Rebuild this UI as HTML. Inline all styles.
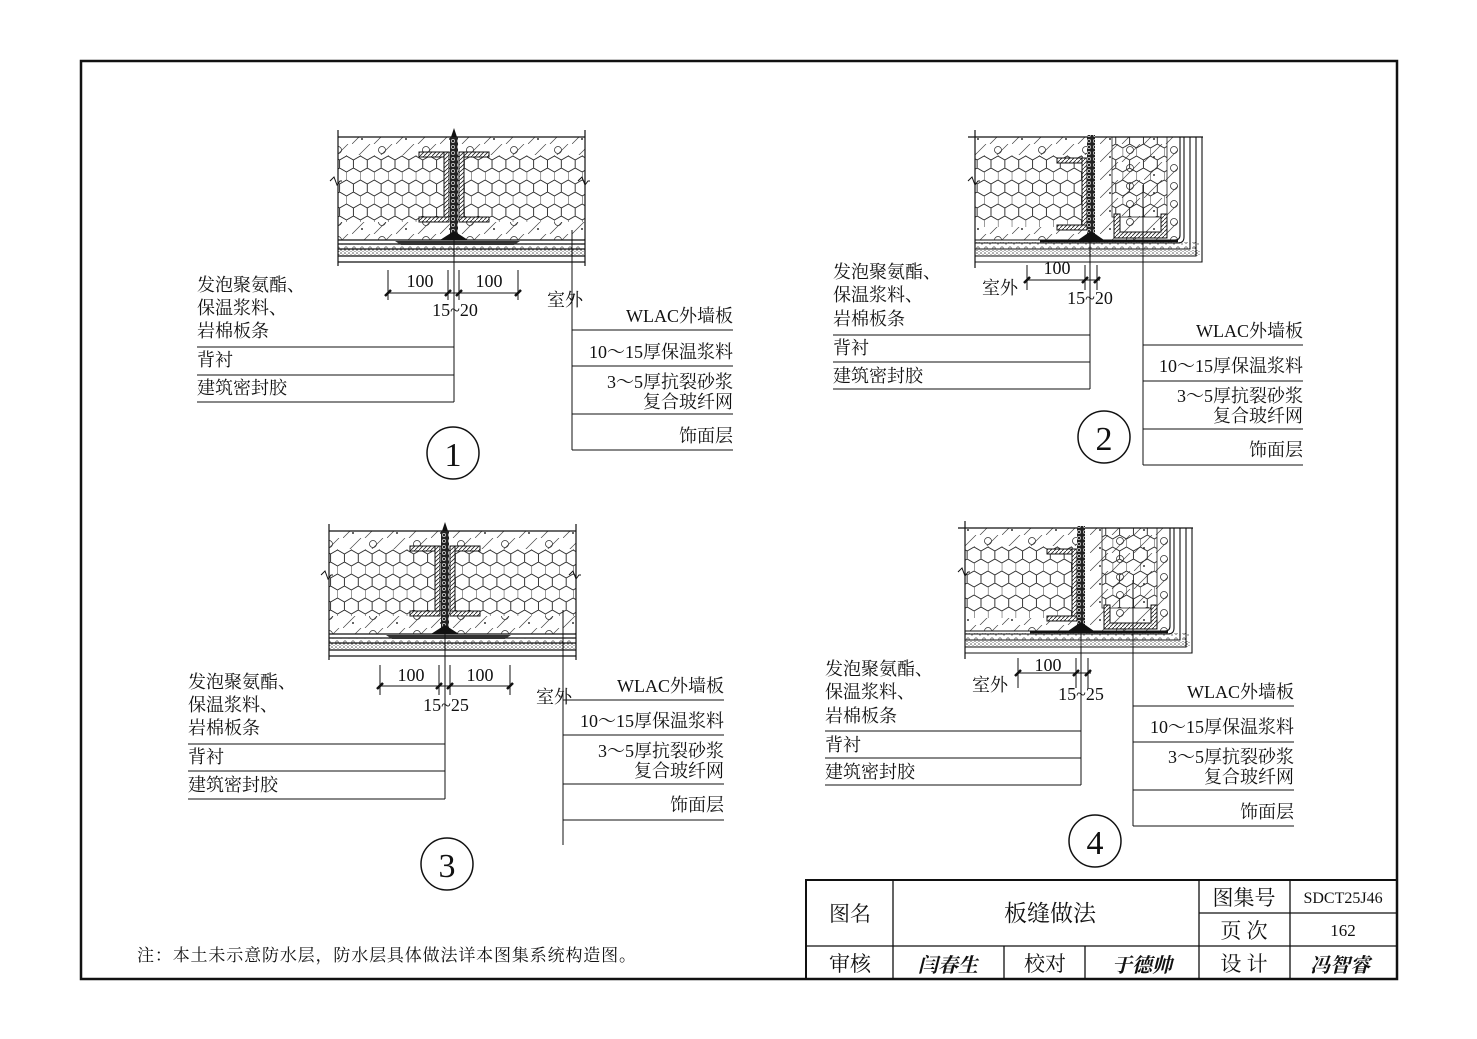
<!DOCTYPE html>
<html><head><meta charset="utf-8"><style>
html,body{margin:0;padding:0;background:#fff}
svg{display:block}
text{font-family:"Liberation Serif","Noto Serif CJK SC",serif;fill:#111}
</style></head><body>
<svg width="1477" height="1039" viewBox="0 0 1477 1039" xmlns="http://www.w3.org/2000/svg">
<defs>
<pattern id="hex" patternUnits="userSpaceOnUse" width="13.86" height="24">
<path d="M0,4 L6.93,0 L13.86,4 M0,4 V12 M0,12 L6.93,16 L13.86,12 M6.93,16 V24" fill="none" stroke="#222" stroke-width="0.9"/>
</pattern>
<pattern id="conc" patternUnits="userSpaceOnUse" width="44" height="18">
<path d="M0,18 L18,0 M22,18 L40,0" stroke="#444" stroke-width="0.7"/>
<circle cx="30" cy="6" r="3.5" fill="none" stroke="#333" stroke-width="0.8"/>
<circle cx="10" cy="13" r="1" fill="#333"/>
</pattern>
<pattern id="spk" patternUnits="userSpaceOnUse" width="8" height="6">
<circle cx="2" cy="2" r="1.2" fill="none" stroke="#444" stroke-width="0.7"/>
<circle cx="6" cy="4" r="0.7" fill="#555"/>
</pattern>
<pattern id="dots" patternUnits="userSpaceOnUse" width="4" height="3">
<rect width="4" height="3" fill="#fff"/><circle cx="1" cy="1" r="0.8" fill="#555"/><circle cx="3" cy="2.5" r="0.6" fill="#777"/>
</pattern>
<pattern id="hatch" patternUnits="userSpaceOnUse" width="4" height="4">
<rect width="4" height="4" fill="#fff"/><path d="M0,4 L4,0" stroke="#222" stroke-width="0.8"/>
</pattern>
<pattern id="bolt" patternUnits="userSpaceOnUse" width="6" height="6">
<rect width="6" height="6" fill="#222"/><circle cx="3" cy="3" r="1.6" fill="none" stroke="#ddd" stroke-width="0.7"/>
</pattern>

<g id="p1">
<rect x="338" y="137" width="247" height="18" fill="url(#conc)"/>
<rect x="338" y="155" width="247" height="67" fill="url(#hex)"/>
<rect x="338" y="222" width="247" height="18" fill="url(#conc)"/>
<rect x="338" y="244" width="247" height="5" fill="url(#spk)"/>
<rect x="338" y="249" width="247" height="7" fill="url(#dots)"/>
<path d="M338,137 H585 M338,240 H585 M338,244 H585 M338,249 H585 M338,256 H585 M338,262 H585" stroke="#111" stroke-width="1.2" fill="none"/>
<path d="M338,130 V266 M585,130 V266" stroke="#111" stroke-width="1.2"/>
<path d="M330,181 l4,-4 l3,8 l3,-4 h2 M578,181 l4,-4 l3,8 l3,-4 h2" stroke="#111" fill="none" stroke-width="1"/>
<path d="M395,241 L520,241 L514,245 L401,245 Z" fill="#333"/>
<rect x="419" y="152" width="30" height="5" fill="url(#hatch)" stroke="#111"/>
<rect x="444" y="152" width="5" height="70" fill="url(#hatch)" stroke="#111"/>
<rect x="419" y="217" width="30" height="5" fill="url(#hatch)" stroke="#111"/>
<rect x="459" y="152" width="30" height="5" fill="url(#hatch)" stroke="#111"/>
<rect x="459" y="152" width="5" height="70" fill="url(#hatch)" stroke="#111"/>
<rect x="459" y="217" width="30" height="5" fill="url(#hatch)" stroke="#111"/>
<rect x="450" y="137" width="8" height="100" fill="url(#bolt)"/>
<path d="M451,137 L454,128 L457,137 Z M440,240 L454,231 L468,240 Z" fill="#111"/>
</g>

<g id="p2">
<rect x="975" y="137" width="113" height="18" fill="url(#conc)"/>
<rect x="975" y="155" width="108" height="72" fill="url(#hex)"/>
<rect x="975" y="227" width="113" height="13" fill="url(#conc)"/>
<rect x="1096" y="137" width="82" height="103" fill="url(#conc)"/>
<rect x="1112" y="137" width="55" height="80" fill="url(#hex)" stroke="#222" stroke-width="0.8"/>
<rect x="975" y="242" width="225" height="7" fill="url(#spk)"/>
<rect x="975" y="250" width="225" height="6" fill="url(#dots)"/>
<path d="M968,137 H1203 M975,130 V268" stroke="#111" stroke-width="1.2" fill="none"/>
<path d="M975,240 H1175 Q1180,240 1180,235 V137 M975,243 H1178 Q1184,243 1184,237 V137 M975,249 H1190 V137 M975,256 H1196 V137 M975,262 H1202 V137" stroke="#111" stroke-width="1.1" fill="none"/>
<path d="M1040,241 H1178" stroke="#111" stroke-width="2.5"/>
<path d="M968,181 l4,-4 l3,8 l3,-4 h2" stroke="#111" fill="none"/>
<rect x="1057" y="158" width="30" height="5" fill="url(#hatch)" stroke="#111"/>
<rect x="1082" y="158" width="5" height="72" fill="url(#hatch)" stroke="#111"/>
<rect x="1057" y="225" width="30" height="5" fill="url(#hatch)" stroke="#111"/>
<path d="M1114,214 H1120 V232 H1161 V214 H1167 V238 H1114 Z" fill="url(#hatch)" stroke="#111"/>
<rect x="1087" y="135" width="8" height="102" fill="url(#bolt)"/>
<path d="M1078,240 L1091,231 L1104,240 Z" fill="#111"/>
</g>
</defs>

<rect x="81" y="61" width="1316" height="918" fill="none" stroke="#111" stroke-width="2.5"/>

<!-- Detail 1 -->
<use href="#p1"/>
<g stroke="#111" stroke-width="1" fill="none">
<path d="M454,240 V402 M197,347 H454 M197,375 H454 M197,402 H454"/>
<path d="M572,230 V450 M572,330 H733 M572,366 H733 M572,414 H733 M572,450 H733"/>
<path d="M388,293 H518 M388,270 V300 M448,270 V300 M459,270 V300 M518,270 V300"/>
<path d="M385,296 l6,-6 M445,296 l6,-6 M456,296 l6,-6 M515,296 l6,-6" stroke-width="2.5"/>
<circle cx="453" cy="453" r="26" stroke-width="1.5"/>
</g>
<g font-size="18">
<text x="197" y="291">发泡聚氨酯、</text><text x="197" y="314">保温浆料、</text><text x="197" y="337">岩棉板条</text>
<text x="197" y="366">背衬</text><text x="197" y="394">建筑密封胶</text>
<text x="547" y="306">室外</text>
<text x="733" y="322" text-anchor="end">WLAC外墙板</text>
<text x="733" y="358" text-anchor="end">10～15厚保温浆料</text>
<text x="733" y="388" text-anchor="end">3～5厚抗裂砂浆</text>
<text x="733" y="408" text-anchor="end">复合玻纤网</text>
<text x="733" y="442" text-anchor="end">饰面层</text>
<text x="420" y="287" text-anchor="middle">100</text><text x="489" y="287" text-anchor="middle">100</text>
<text x="455" y="316" text-anchor="middle">15~20</text>
<text x="453" y="466" font-size="34" text-anchor="middle">1</text>
</g>

<!-- Detail 3 -->
<g transform="translate(-9,394)"><use href="#p1"/></g>
<g stroke="#111" stroke-width="1" fill="none">
<path d="M445,634 V799 M188,744 H445 M188,771 H445 M188,799 H445"/>
<path d="M563,610 V845 M563,700 H724 M563,735 H724 M563,784 H724 M563,820 H724"/>
<path d="M380,686 H510 M380,665 V695 M439,665 V695 M450,665 V695 M510,665 V695"/>
<path d="M377,689 l6,-6 M436,689 l6,-6 M447,689 l6,-6 M507,689 l6,-6" stroke-width="2.5"/>
<circle cx="447" cy="864" r="26" stroke-width="1.5"/>
</g>
<g font-size="18">
<text x="188" y="688">发泡聚氨酯、</text><text x="188" y="711">保温浆料、</text><text x="188" y="734">岩棉板条</text>
<text x="188" y="763">背衬</text><text x="188" y="791">建筑密封胶</text>
<text x="536" y="703">室外</text>
<text x="724" y="692" text-anchor="end">WLAC外墙板</text>
<text x="724" y="727" text-anchor="end">10～15厚保温浆料</text>
<text x="724" y="757" text-anchor="end">3～5厚抗裂砂浆</text>
<text x="724" y="777" text-anchor="end">复合玻纤网</text>
<text x="724" y="811" text-anchor="end">饰面层</text>
<text x="411" y="681" text-anchor="middle">100</text><text x="480" y="681" text-anchor="middle">100</text>
<text x="446" y="711" text-anchor="middle">15~25</text>
<text x="447" y="877" font-size="34" text-anchor="middle">3</text>
</g>

<!-- Detail 2 -->
<use href="#p2"/>
<g stroke="#111" stroke-width="1" fill="none">
<path d="M1090,240 V389 M833,335 H1090 M833,362 H1090 M833,389 H1090"/>
<path d="M1143,185 V465 M1143,345 H1303 M1143,381 H1303 M1143,429 H1303 M1143,465 H1303"/>
<path d="M1027,280 H1100 M1027,265 V290 M1085,265 V290 M1097,265 V290"/>
<path d="M1024,283 l6,-6 M1082,283 l6,-6 M1094,283 l6,-6" stroke-width="2.5"/>
<circle cx="1104" cy="437" r="26" stroke-width="1.5"/>
</g>
<g font-size="18">
<text x="833" y="278">发泡聚氨酯、</text><text x="833" y="301">保温浆料、</text><text x="833" y="325">岩棉板条</text>
<text x="833" y="354">背衬</text><text x="833" y="382">建筑密封胶</text>
<text x="982" y="294">室外</text>
<text x="1303" y="337" text-anchor="end">WLAC外墙板</text>
<text x="1303" y="372" text-anchor="end">10～15厚保温浆料</text>
<text x="1303" y="402" text-anchor="end">3～5厚抗裂砂浆</text>
<text x="1303" y="422" text-anchor="end">复合玻纤网</text>
<text x="1303" y="456" text-anchor="end">饰面层</text>
<text x="1057" y="274" text-anchor="middle">100</text>
<text x="1090" y="304" text-anchor="middle">15~20</text>
<text x="1104" y="450" font-size="34" text-anchor="middle">2</text>
</g>

<!-- Detail 4 -->
<g transform="translate(-10,391)"><use href="#p2"/></g>
<g stroke="#111" stroke-width="1" fill="none">
<path d="M1081,632 V785 M825,731 H1081 M825,758 H1081 M825,785 H1081"/>
<path d="M1133,580 V826 M1133,706 H1294 M1133,742 H1294 M1133,790 H1294 M1133,826 H1294"/>
<path d="M1018,673 H1091 M1018,658 V688 M1076,658 V688 M1088,658 V688"/>
<path d="M1015,676 l6,-6 M1073,676 l6,-6 M1085,676 l6,-6" stroke-width="2.5"/>
<circle cx="1095" cy="841" r="26" stroke-width="1.5"/>
</g>
<g font-size="18">
<text x="825" y="675">发泡聚氨酯、</text><text x="825" y="698">保温浆料、</text><text x="825" y="722">岩棉板条</text>
<text x="825" y="751">背衬</text><text x="825" y="778">建筑密封胶</text>
<text x="972" y="691">室外</text>
<text x="1294" y="698" text-anchor="end">WLAC外墙板</text>
<text x="1294" y="733" text-anchor="end">10～15厚保温浆料</text>
<text x="1294" y="763" text-anchor="end">3～5厚抗裂砂浆</text>
<text x="1294" y="783" text-anchor="end">复合玻纤网</text>
<text x="1294" y="818" text-anchor="end">饰面层</text>
<text x="1048" y="671" text-anchor="middle">100</text>
<text x="1081" y="700" text-anchor="middle">15~25</text>
<text x="1095" y="854" font-size="34" text-anchor="middle">4</text>
</g>

<!-- Title block -->
<g stroke="#111" fill="none">
<rect x="806" y="880" width="591" height="99" stroke-width="2"/>
<path d="M806,946 H1397 M1199,913 H1397 M893,880 V979 M1199,880 V979 M1290,880 V979 M1004,946 V979 M1085,946 V979" stroke-width="1.3"/>
</g>
<g font-size="21" text-anchor="middle">
<text x="850" y="921">图名</text>
<text x="1050" y="921" font-size="23">板缝做法</text>
<text x="1244" y="905">图集号</text>
<text x="1244" y="938">页 次</text>
<text x="1343" y="903" font-size="16">SDCT25J46</text>
<text x="1343" y="936" font-size="17">162</text>
<text x="850" y="971">审核</text>
<text x="1045" y="971">校对</text>
<text x="1244" y="971">设 计</text>
<text x="948" y="972" font-size="20" font-style="italic" font-weight="bold">闫春生</text>
<text x="1142" y="972" font-size="20" font-style="italic" font-weight="bold">于德帅</text>
<text x="1340" y="972" font-size="20" font-style="italic" font-weight="bold">冯智睿</text>
</g>
<text x="137" y="961" font-size="17" textLength="499" lengthAdjust="spacing">注：本土未示意防水层，防水层具体做法详本图集系统构造图。</text>
</svg>
</body></html>
